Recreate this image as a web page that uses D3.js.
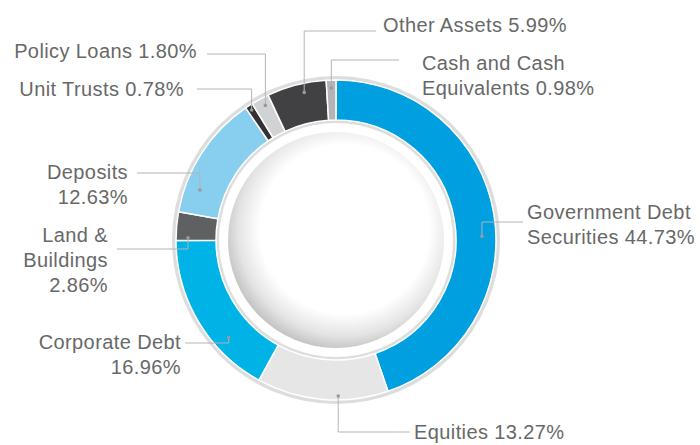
<!DOCTYPE html>
<html>
<head>
<meta charset="utf-8">
<script src="https://cdn.jsdelivr.net/npm/d3@7"></script>
<style>
  html, body { margin: 0; padding: 0; background: #fff; }
  svg text { font-family: "Liberation Sans", Arial, sans-serif; font-size: 20px; fill: #686868; letter-spacing: 0.4px; }
</style>
</head>
<body>
<svg id="chart" width="700" height="445"></svg>
<script>
// asset allocation, clockwise from 12 o'clock
const categories = ["Government Debt Securities", "Equities", "Corporate Debt", "Land & Buildings",
    "Deposits", "Unit Trusts", "Policy Loans", "Other Assets", "Cash and Cash Equivalents"];
const shares = [44.73, 13.27, 16.96, 2.86, 12.63, 0.78, 1.80, 5.99, 0.98];
const colors = ["#009fdf", "#e6e6e6", "#00b3e6", "#5f6062", "#88cfef", "#333335", "#d1d2d4", "#414042", "#b3b4b6"];

// how the name is broken over lines, value goes on its own line or after the last one
const nameLines = [["Government Debt", "Securities"], ["Equities"], ["Corporate Debt"], ["Land &", "Buildings"],
    ["Deposits"], ["Unit Trusts"], ["Policy Loans"], ["Other Assets"], ["Cash and Cash", "Equivalents"]];
const valueOwnLine = [false, false, true, true, true, false, false, false, false];

// label placement: t = where in the slice the dot sits, r = dot radius
const labelLayout = [
    { t: 0.55, r: 146, lineY: 222, endX: 523, textX: 527, anchor: "start", y0: 219 },
    { t: 0.38, r: 156, lineY: 432, endX: 410, textX: 414, anchor: "start", y0: 439 },
    { t: 0.31, r: 145, lineY: 343, endX: 185, textX: 181, anchor: "end", y0: 349 },
    { t: 0.10, r: 148, lineY: 249, endX: 117, textX: 108, anchor: "end", y0: 242 },
    { t: 0.22, r: 145, lineY: 173, endX: 137, textX: 128, anchor: "end", y0: 179 },
    { t: 0.50, r: 155, lineY: 89, endX: 197, textX: 184, anchor: "end", y0: 96 },
    { t: 0.60, r: 152, lineY: 54, endX: 207, textX: 197, anchor: "end", y0: 58 },
    { t: 0.60, r: 151, lineY: 31, endX: 376, textX: 383, anchor: "start", y0: 32 },
    { t: 0.50, r: 152, lineY: 60, endX: 399, textX: 422, anchor: "start", y0: 70 }
];

const cx = 336, cy = 240;
const outerR = 160, innerR = 120;
const lineGap = 25;

let svg = d3.select("#chart");

let defs = svg.append("defs");
let dish = defs.append("radialGradient")
    .attr("id", "dish")
    .attr("cx", "54%")
    .attr("cy", "45%")
    .attr("r", "56%");
dish.append("stop").attr("offset", "0%").attr("stop-color", "#ffffff");
dish.append("stop").attr("offset", "70%").attr("stop-color", "#ffffff");
dish.append("stop").attr("offset", "88%").attr("stop-color", "#e4e4e4");
dish.append("stop").attr("offset", "100%").attr("stop-color", "#c4c4c4");

let g = svg.append("g").attr("transform", `translate(${cx},${cy})`);

// grey rims around the ring
g.append("circle").attr("r", outerR + 4).attr("fill", "#dddddd");
g.append("circle").attr("r", innerR).attr("fill", "#dddddd");

let data = categories.map((name, i) => ({ name: name, value: shares[i], i: i }));

let pie = d3.pie().sort(null).value(d => d.value);
let arcs = pie(data);

let arc = d3.arc().innerRadius(innerR).outerRadius(outerR);

g.selectAll("path.slice")
    .data(arcs)
    .join("path")
    .attr("class", "slice")
    .attr("d", arc)
    .attr("fill", d => colors[d.data.i])
    .attr("stroke", "#fff")
    .attr("stroke-width", 1.5)
    .attr("stroke-linejoin", "bevel");

// inner white gap and the shaded dish
g.append("circle").attr("r", innerR - 3).attr("fill", "#fff");
g.append("circle").attr("r", innerR - 12).attr("fill", "url(#dish)");

// leader lines, dots and labels
function dotPos(a) {
    let lay = labelLayout[a.data.i];
    let ang = a.startAngle + (a.endAngle - a.startAngle) * lay.t;
    return [cx + lay.r * Math.sin(ang), cy - lay.r * Math.cos(ang)];
}

let labels = svg.append("g");

arcs.forEach(a => {
    let lay = labelLayout[a.data.i];
    let p = dotPos(a);

    labels.append("path")
        .attr("d", `M${p[0]},${p[1]}V${lay.lineY}H${lay.endX}`)
        .attr("fill", "none")
        .attr("stroke", "#b4b4b4")
        .attr("stroke-width", 1);

    labels.append("circle")
        .attr("cx", p[0])
        .attr("cy", p[1])
        .attr("r", 1.8)
        .attr("fill", "#9a9a9a");

    let lines = nameLines[a.data.i].slice();
    let valueText = d3.format(".2f")(a.data.value) + "%";
    if (valueOwnLine[a.data.i]) {
        lines.push(valueText);
    } else {
        lines[lines.length - 1] += " " + valueText;
    }

    let text = labels.append("text")
        .attr("text-anchor", lay.anchor);
    lines.forEach((line, k) => {
        text.append("tspan")
            .attr("x", lay.textX)
            .attr("y", lay.y0 + k * lineGap)
            .text(line);
    });
});
</script>
</body>
</html>
